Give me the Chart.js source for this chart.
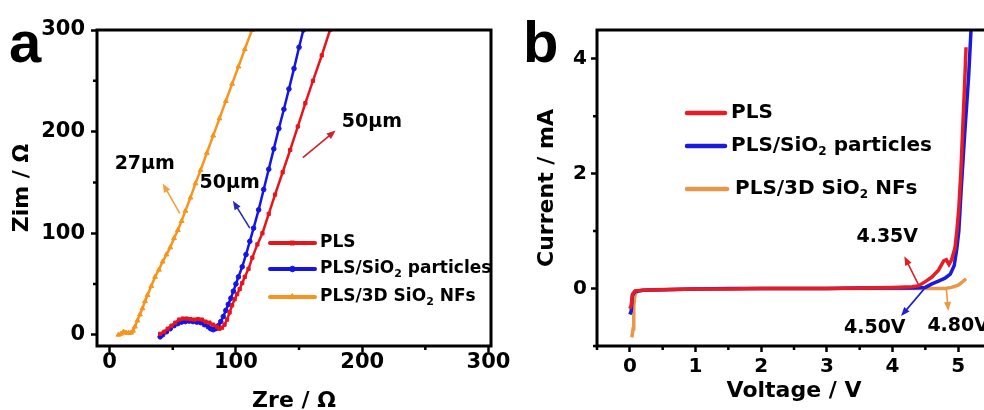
<!DOCTYPE html>
<html>
<head>
<meta charset="utf-8">
<script src="https://cdn.jsdelivr.net/npm/chart.js@4.4.1/dist/chart.umd.min.js"></script>
<style>
  html, body { margin: 0; padding: 0; background: #fff; overflow: hidden; }
  #wrap { position: relative; width: 984px; height: 410px; overflow: hidden; }
  #ca { position: absolute; left: 0; top: 0; }
  #cb { position: absolute; left: 510px; top: 0; }
</style>
</head>
<body>
<div id="wrap">
  <canvas id="ca" width="530" height="420"></canvas>
  <canvas id="cb" width="500" height="420"></canvas>
</div>
<script>
// --- panel a: Nyquist plots [Zre, Zim] in ohm
const nyqPLS = [[40,1],[43,3],[46,6],[49,9],[52,12],[55,15],[58,16],[61,16],[64,15.5],[67,15],[70,15.5],[73,15],[76,13],[79,12],[82,10],[85,8],[87,6],[89,7],[91,10],[93,15],[95,22],[97,29],[99,35],[101,40],[103,45],[105,51],[107,57],[110,65],[113,76],[117,89],[121,100],[126,119],[131,138],[137,160],[143,182],[149,205],[155,228],[161,250],[168,275],[174.5,300]];
const nyqParticles = [[40,-2],[42,0],[45,3],[48,6],[51,9],[54,11],[57,12.5],[60,13],[63,13.5],[66,13],[69,12.5],[72,12],[75,10],[78,8],[80,6],[82,5],[84,6],[86,9],[88,13],[90,18],[92,24],[94,30],[96,36],[98,43],[100,50],[102,57],[105,67],[108,79],[111,92],[114,105],[118,123],[122,143],[126,163],[130,183],[134,203],[138,222],[142,242],[146,262],[150,283],[153.4,300]];
const nyqNFs = [[7,0],[9,1],[11,3],[13,2],[15,2],[17,2],[18.5,4],[20,8],[22,14],[24,20],[26,26],[28,33],[30,39],[33,48],[36,57],[39,64],[42,72],[45,79],[48,86],[51,95],[54,103],[57,112],[60,122],[64,135],[68,149],[72,162],[77,179],[82,196],[87,213],[92,230],[97,247],[102,264],[107,281],[112.7,300]];

// --- panel b: LSV curves [V, mA]
const lsvPLS = [[0,-0.35],[0.02,-0.3],[0.04,-0.1],[0.08,-0.04],[0.2,-0.03],[0.5,-0.02],[1,-0.01],[1.5,-0.01],[2,0],[2.5,0],[3,0],[3.5,0.01],[4,0.02],[4.3,0.03],[4.4,0.05],[4.5,0.12],[4.6,0.2],[4.7,0.32],[4.78,0.48],[4.82,0.5],[4.86,0.42],[4.9,0.5],[4.95,0.7],[4.98,1.0],[5.01,1.4],[5.04,2.0],[5.07,2.8],[5.1,3.6],[5.12,4.2]];
const lsvParticles = [[0,-0.45],[0.02,-0.4],[0.04,-0.12],[0.08,-0.05],[0.2,-0.03],[0.5,-0.02],[1,-0.01],[1.5,0],[2,0],[2.5,0],[3,0],[3.5,0.01],[4,0.01],[4.3,0.01],[4.5,0.02],[4.6,0.08],[4.7,0.13],[4.8,0.18],[4.88,0.25],[4.94,0.4],[4.98,0.7],[5.01,1.0],[5.05,1.8],[5.1,2.7],[5.16,3.7],[5.2,4.6]];
const lsvNFs = [[0.03,-0.85],[0.05,-0.7],[0.06,-0.3],[0.08,-0.1],[0.12,-0.04],[0.3,-0.02],[1,-0.01],[2,0],[3,0],[4,0],[4.5,0],[4.8,0],[4.9,0.02],[5.0,0.06],[5.06,0.11],[5.12,0.17]];

const seriesNames = ['PLS', 'PLS/SiO₂ particles', 'PLS/3D SiO₂ NFs'];
const zTicks = [0, 100, 200, 300];
const vTicks = [0, 1, 2, 3, 4, 5];
const iTicks = [0, 2, 4];

const FONT = 'DejaVu Sans';
Chart.defaults.font.family = FONT;
Chart.defaults.color = '#000';

const toXY = arr => arr.map(p => ({x: p[0], y: p[1]}));

function richText(ctx, text, x, y, size) {
  let cx = x;
  for (const part of text.split(/(₂)/)) {
    if (!part) continue;
    if (part === '₂') {
      ctx.font = `bold ${Math.round(size * 0.62)}px "${FONT}"`;
      ctx.fillText('2', cx, y + size * 0.3);
      cx += ctx.measureText('2').width;
    } else {
      ctx.font = `bold ${size}px "${FONT}"`;
      ctx.fillText(part, cx, y);
      cx += ctx.measureText(part).width;
    }
  }
}

function arrow(ctx, x1, y1, x2, y2, color) {
  const a = Math.atan2(y2 - y1, x2 - x1), L = 9, W = 3.5;
  ctx.strokeStyle = color; ctx.fillStyle = color; ctx.lineWidth = 1.6;
  ctx.beginPath();
  ctx.moveTo(x1, y1);
  ctx.lineTo(x2 - L * 0.8 * Math.cos(a), y2 - L * 0.8 * Math.sin(a));
  ctx.stroke();
  ctx.beginPath();
  ctx.moveTo(x2, y2);
  ctx.lineTo(x2 - L * Math.cos(a) + W * Math.sin(a), y2 - L * Math.sin(a) - W * Math.cos(a));
  ctx.lineTo(x2 - L * Math.cos(a) - W * Math.sin(a), y2 - L * Math.sin(a) + W * Math.cos(a));
  ctx.closePath();
  ctx.fill();
}

// frame, minor ticks, arrows + notes, legend, panel letter
const decor = {
  id: 'decor',
  afterDatasetsDraw(chart, args, o) {
    const ctx = chart.ctx, xs = chart.scales.x, ys = chart.scales.y;
    ctx.save();
    (o.arrows || []).forEach(ar => {
      arrow(ctx, xs.getPixelForValue(ar.from[0]), ys.getPixelForValue(ar.from[1]),
        xs.getPixelForValue(ar.to[0]), ys.getPixelForValue(ar.to[1]), ar.color);
    });
    ctx.fillStyle = '#000';
    ctx.textAlign = 'center';
    ctx.textBaseline = 'middle';
    ctx.font = `bold ${o.noteSize}px "${FONT}"`;
    (o.notes || []).forEach(n => {
      ctx.fillText(n.text, xs.getPixelForValue(n.at[0]), ys.getPixelForValue(n.at[1]));
    });
    ctx.restore();
  },
  afterDraw(chart, args, o) {
    const ctx = chart.ctx, a = chart.chartArea;
    const xs = chart.scales.x, ys = chart.scales.y;
    ctx.save();
    // box
    ctx.strokeStyle = '#000';
    ctx.lineWidth = 3;
    ctx.strokeRect(a.left, a.top, a.right - a.left, a.bottom - a.top);
    // minor ticks
    ctx.lineWidth = 2.5;
    ctx.beginPath();
    xs.ticks.forEach(t => {
      if (t.label !== '') return;
      const px = xs.getPixelForValue(t.value);
      ctx.moveTo(px, a.bottom); ctx.lineTo(px, a.bottom + 4);
    });
    ys.ticks.forEach(t => {
      if (t.label !== '') return;
      const py = ys.getPixelForValue(t.value);
      ctx.moveTo(a.left, py); ctx.lineTo(a.left - 4, py);
    });
    ctx.stroke();
    // legend
    const lg = o.legend;
    chart.data.datasets.forEach((ds, i) => {
      const y = lg.rows[i];
      const x1 = lg.x1[i], x2 = lg.x2[i];
      ctx.strokeStyle = lg.lineColors ? lg.lineColors[i] : ds.borderColor;
      ctx.lineWidth = lg.lineWidth;
      ctx.lineCap = 'round';
      ctx.beginPath(); ctx.moveTo(x1, y); ctx.lineTo(x2, y); ctx.stroke();
      if (lg.marker) {
        ctx.fillStyle = ds.backgroundColor; ctx.strokeStyle = ds.borderColor; ctx.lineWidth = 1;
        Chart.helpers.drawPoint(ctx, {pointStyle: ds.pointStyle, radius: ds.pointRadius + 0.5, rotation: 0, borderWidth: 1}, (x1 + x2) / 2, y);
      }
      ctx.fillStyle = '#000';
      ctx.textAlign = 'left';
      ctx.textBaseline = 'middle';
      richText(ctx, ds.label, lg.tx[i], y, lg.size);
    });
    // panel letter
    ctx.fillStyle = '#000';
    ctx.textAlign = 'left';
    ctx.textBaseline = 'alphabetic';
    ctx.font = `bold 58px "Liberation Sans"`;
    ctx.fillText(o.letter.text, o.letter.x, o.letter.y);
    ctx.restore();
  }
};

const hideMinor = c => (c.tick && c.tick.label === '') ? 'rgba(0,0,0,0)' : '#000';

function axis(min, max, step, labels, size, tickPad, title, titlePad, fit) {
  return {
    type: 'linear', min, max,
    afterFit: fit,
    border: {display: false},
    grid: {drawOnChartArea: false, drawTicks: true, tickLength: 6, tickWidth: 2.5, tickColor: hideMinor},
    ticks: {
      stepSize: step, includeBounds: false, autoSkip: false, maxRotation: 0,
      padding: tickPad, color: '#000',
      font: {size, weight: 'bold', lineHeight: 1},
      callback: v => labels.includes(v) ? String(v) : ''
    },
    title: {display: true, text: title, color: '#000', font: {size: 22, weight: 'bold'}, padding: titlePad}
  };
}

// panel a
new Chart(document.getElementById('ca'), {
  type: 'scatter',
  data: {
    datasets: [
      {label: seriesNames[0], data: toXY(nyqPLS), borderColor: '#e8141c', backgroundColor: '#e8141c', pointStyle: 'rect', pointRadius: 2.3},
      {label: seriesNames[1], data: toXY(nyqParticles), borderColor: '#1414e6', backgroundColor: '#1414e6', pointStyle: 'circle', pointRadius: 2.3},
      {label: seriesNames[2], data: toXY(nyqNFs), borderColor: '#f7941d', backgroundColor: '#f7941d', pointStyle: 'triangle', pointRadius: 2.8}
    ].map(d => Object.assign(d, {showLine: true, borderWidth: 2.5, pointBorderWidth: 1, tension: 0}))
  },
  options: {
    responsive: false,
    animation: false,
    layout: {padding: {top: 30, right: 39, left: 0, bottom: 0}},
    plugins: {
      legend: {display: false},
      tooltip: {enabled: false},
      decor: {
        noteSize: 19,
        notes: [
          {text: '27µm', at: [27.8, 167.6]},
          {text: '50µm', at: [95, 149.5]},
          {text: '50µm', at: [207.7, 209]}
        ],
        arrows: [
          {from: [55.6, 119.6], to: [42, 149], color: '#f5a040'},
          {from: [111, 105], to: [97.6, 132], color: '#2a2ab8'},
          {from: [153, 174.5], to: [179, 201], color: '#d0202a'}
        ],
        legend: {rows: [243, 269, 297], x1: [270, 270, 270], x2: [315, 315, 315], tx: [320, 320, 320], size: 17, lineWidth: 4, marker: true},
        letter: {text: 'a', x: 9, y: 62}
      }
    },
    scales: {
      x: axis(-10, 302, 50, zTicks, 21, 0, 'Zre / Ω', {top: 0, bottom: 6}, s => { s.height = 74; s.paddingLeft = 0; s.paddingRight = 0; }),
      y: axis(-11, 300, 50, zTicks, 21, 6, 'Zim / Ω', {top: 9, bottom: 0}, s => { s.width = 97; })
    }
  },
  plugins: [decor]
});

// panel b
new Chart(document.getElementById('cb'), {
  type: 'scatter',
  data: {
    datasets: [
      {label: seriesNames[0], data: toXY(lsvPLS), borderColor: '#e81c24', backgroundColor: '#e81c24'},
      {label: seriesNames[1], data: toXY(lsvParticles), borderColor: '#1a1adc', backgroundColor: '#1a1adc'},
      {label: seriesNames[2], data: toXY(lsvNFs), borderColor: '#e8964a', backgroundColor: '#e8964a'}
    ].map(d => Object.assign(d, {showLine: true, borderWidth: 3.5, pointRadius: 0, tension: 0}))
  },
  options: {
    responsive: false,
    animation: false,
    layout: {padding: {top: 30, right: 19, left: 0, bottom: 0}},
    plugins: {
      legend: {display: false},
      tooltip: {enabled: false},
      decor: {
        noteSize: 19,
        notes: [
          {text: '4.35V', at: [3.92, 0.89]},
          {text: '4.50V', at: [3.73, -0.69]},
          {text: '4.80V', at: [5.0, -0.65]}
        ],
        arrows: [
          {from: [4.40, 0.06], to: [4.18, 0.56], color: '#e02020'},
          {from: [4.48, -0.01], to: [4.13, -0.48], color: '#2020d0'},
          {from: [4.82, -0.01], to: [4.85, -0.39], color: '#e89a40'}
        ],
        legend: {rows: [113, 146, 189], x1: [177, 177, 177], x2: [215, 215, 217], tx: [221, 221, 225], size: 20, lineWidth: 4.5, marker: false},
        letter: {text: 'b', x: 13, y: 62}
      }
    },
    scales: {
      x: axis(-0.5, 5.5, 0.5, vTicks, 20, 5, 'Voltage / V', {top: 0, bottom: 16}, s => { s.height = 74; s.paddingLeft = 0; s.paddingRight = 0; }),
      y: axis(-1, 4.5, 1, iTicks, 20, 4, 'Current / mA', {top: 24, bottom: 0}, s => { s.width = 87; })
    }
  },
  plugins: [decor]
});
</script>
</body>
</html>
